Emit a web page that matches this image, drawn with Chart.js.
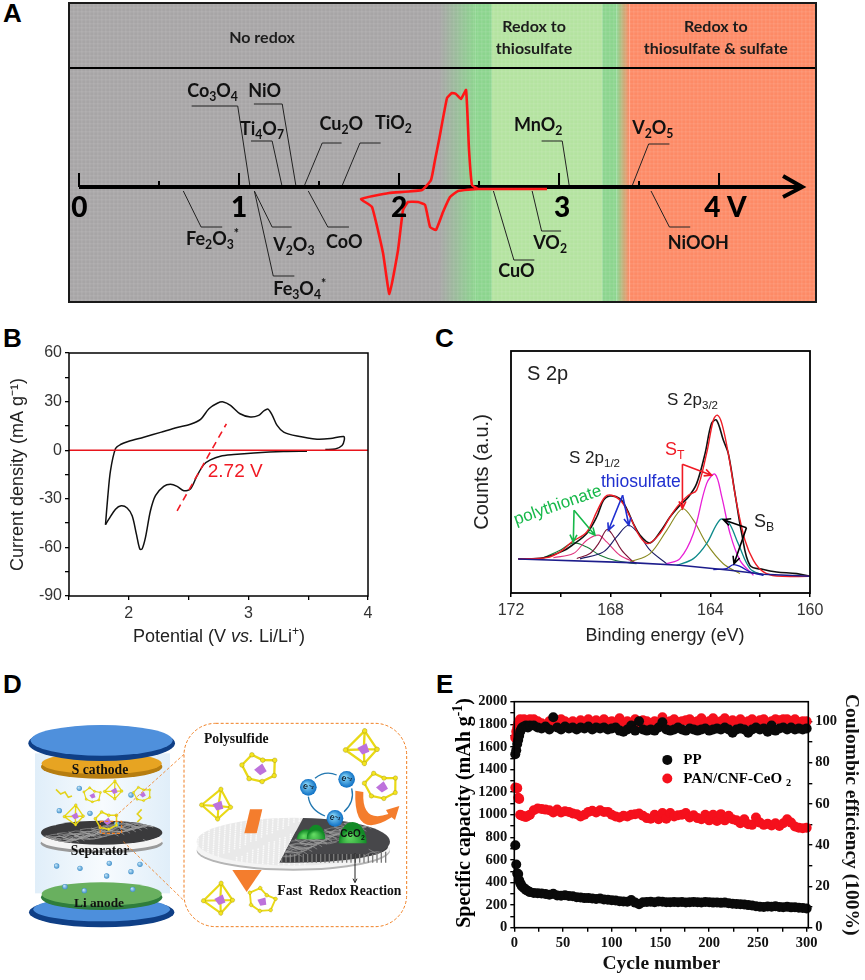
<!DOCTYPE html>
<html>
<head>
<meta charset="utf-8">
<title>Redox panels</title>
<script src="https://cdn.jsdelivr.net/npm/chart.js@4/dist/chart.umd.min.js"></script>
<style>
  html, body { margin: 0; background: #fff; }
  #page { position: relative; width: 865px; height: 980px; overflow: hidden; }
  canvas { position: absolute; }
  .tag { position: absolute; font: bold 26px "Liberation Sans", sans-serif; color: #000; line-height: 26px; }
</style>
</head>
<body>
<div id="page">
  <div class="tag" style="left:3px;top:0px">A</div>
  <div class="tag" style="left:3px;top:325px">B</div>
  <div class="tag" style="left:435px;top:325px">C</div>
  <div class="tag" style="left:3px;top:671px">D</div>
  <div class="tag" style="left:436px;top:671px">E</div>
  <canvas id="panelA"></canvas>
  <canvas id="panelB"></canvas>
  <canvas id="panelC"></canvas>
  <canvas id="panelD"></canvas>
  <canvas id="panelE"></canvas>
</div>
<script>
// panel A: potential scale (V) and a red CV trace, height in arbitrary current units
const scaleMajor = [0, 1, 2, 3, 4];
const scaleMinor = [0.5, 1.5, 2.5, 3.5];
const cvVolt = [2.925, 2.494, 2.369, 2.319, 2.275, 2.231, 2.194, 2.163, 2.119, 2.056, 2.025, 1.994, 1.94, 1.9, 1.831, 1.763, 1.9375, 2.144, 2.2, 2.225, 2.25, 2.3, 2.331, 2.356, 2.387, 2.419, 2.4375, 2.456, 2.494];
const cvCurrent = [-2, -2, -4, -10, -25, -43, -40, -18, -15, -15, -23, -63, -107, -66, -20, -12, -6, -3, 7, 27, 47, 89, 94, 93, 88, 97, 37, 2, -2];
const oxideLeaders = [
  [[0.704, 81], [0.992, 81], [1.069, 0]],
  [[1.093, 83], [1.27, 83], [1.357, 0]],
  [[1.075, 46], [1.207, 46], [1.27, 0]],
  [[1.641, 44], [1.52, 44], [1.405, 0]],
  [[1.885, 44], [1.756, 44], [1.641, 0]],
  [[2.891, 46], [3.02, 46], [3.065, 0]],
  [[3.69, 43], [3.56, 43], [3.454, 0]],
  [[0.652, -4], [0.763, -40], [0.895, -40]],
  [[1.096, -4], [1.207, -40], [1.329, -40]],
  [[1.096, -4], [1.214, -89], [1.346, -89]],
  [[1.433, -4], [1.555, -40], [1.687, -40]],
  [[2.59, -4], [2.718, -73], [2.846, -73]],
  [[2.832, -4], [2.891, -44], [3.013, -44]],
  [[3.575, -4], [3.69, -40], [3.82, -40]]
];
const oxideLabels = [
  ['Co_{3}O_{4}', 0.676, 90], ['NiO', 1.058, 90], ['Ti_{4}O_{7}', 1.006, 52],
  ['Cu_{2}O', 1.503, 57], ['TiO_{2}', 1.85, 58], ['MnO_{2}', 2.718, 56],
  ['V_{2}O_{5}', 3.457, 53], ['Fe_{2}O_{3}^{*}', 0.669, -58], ['V_{2}O_{3}', 1.214, -64],
  ['CoO', 1.544, -61], ['CuO', 2.62, -90], ['VO_{2}', 2.839, -62],
  ['NiOOH', 3.68, -62], ['Fe_{3}O_{4}^{*}', 1.214, -108]
];
const zoneStops = [-0.0625, 2.25, 2.48, 2.58, 3.27, 3.36, 3.44, 4.606];

// panel B: cyclic voltammogram
const anodicV = [1.805, 1.824, 1.847, 1.889, 1.93, 2.0, 2.125, 2.265, 2.404, 2.515, 2.6, 2.67, 2.74, 2.79, 2.85, 2.93, 3.017, 3.086, 3.128, 3.164, 3.2, 3.24, 3.295, 3.407, 3.574, 3.685, 3.797, 3.802, 3.783, 3.727, 3.643];
const anodicJ = [-46, -29, -12.6, 1, 3.5, 5.5, 8, 11, 14, 16, 19, 25.6, 29, 29.8, 27.7, 22.5, 20.5, 21.5, 24.2, 25.4, 21.5, 15.3, 11.2, 8.7, 6.8, 7.2, 8.5, 6.4, 2.9, 0.8, 0.4];
const cathodicV = [3.49, 3.295, 3.045, 2.877, 2.766, 2.682, 2.627, 2.571, 2.515, 2.46, 2.404, 2.348, 2.292, 2.223, 2.181, 2.139, 2.111, 2.092, 2.064, 2.028, 1.986, 1.936, 1.889, 1.833, 1.805];
const cathodicJ = [-0.6, -0.8, -1.7, -2.7, -3.7, -6, -8.9, -15.7, -24, -25, -22.3, -21, -22.3, -28, -37.4, -54, -61, -61, -52, -40.5, -35.7, -34.3, -36.4, -42.6, -46];
const onsetV = [2.404, 2.816];
const onsetJ = [-37.4, 16.3];

// panel C: S 2p spectrum, [binding energy, counts]
const xpsRaw = [[171.71,14.1],[170.7,14.6],[169.9,17.4],[169.5,20.1],[168.96,24.6],[168.56,31.4],[168.29,38.3],[168.03,40.1],[167.63,39],[167.36,34.9],[167.09,28.7],[166.82,23.9],[166.42,20.7],[166.02,25.2],[165.62,31.4],[165.28,35.6],[164.88,39.7],[164.55,45.2],[164.21,57.7],[163.95,70.1],[163.75,71.4],[163.48,63.2],[163.28,57.7],[163.01,41.1],[162.74,24.6],[162.41,11.4],[161.87,9.7],[161.34,8.7],[160.53,8],[160,6.9]];
const xpsFit = [[171.71,14.1],[170.57,14.6],[170.03,17],[169.56,21.1],[168.96,25.2],[168.56,33.5],[168.23,39.7],[167.96,40.4],[167.56,37.7],[167.22,31.4],[166.82,23.2],[166.49,20.4],[166.02,24.6],[165.62,31.4],[165.28,36.3],[164.88,40.4],[164.55,42.5],[164.15,57.7],[163.88,71.4],[163.72,73.5],[163.54,70.1],[163.28,57.7],[162.94,36.9],[162.61,21.8],[162.27,13.5],[161.87,8.7],[161.34,7],[160,6.9]];
const xpsBase = [[171.71,14.07],[167.22,12.55],[165.22,11.45],[163.21,9.38],[161.87,7.72],[160,6.9]];
const peakPoly1 = [[170.7,14.6],[170.03,17.7],[169.5,20.7],[168.96,19],[168.43,15.6],[167.76,13.3],[166.96,12.1]];
const peakPoly2 = [[170.3,14.6],[169.5,16.3],[168.96,21.8],[168.49,23.9],[168.16,21.1],[167.63,15.6],[166.96,12.4]];
const peakThio1 = [[169.36,14.3],[168.83,16.3],[168.49,20.4],[168.16,26.2],[167.96,24.6],[167.56,17.7],[167.09,12.8]];
const peakThio2 = [[169.23,14.1],[168.29,17],[167.76,23.2],[167.29,28],[166.89,24.6],[166.42,17.7],[165.75,12.1]];
const peakST1 = [[167.22,12.8],[166.42,16.3],[165.75,25.9],[165.12,34.8],[164.68,30.1],[164.15,20.4],[163.48,12.1],[162.81,8]];
const peakST2 = [[165.75,12.1],[165.22,14.2],[164.68,24.6],[164.15,45.2],[163.81,49.1],[163.54,39.7],[163.21,24.6],[162.81,13.5],[162.27,7.3]];
const peakSB1 = [[165.35,11.4],[164.68,14.2],[164.15,20.4],[163.61,30.3],[163.28,29.4],[162.88,20.4],[162.41,10.1],[161.87,7.3]];
const peakSB2 = [[163.88,9.7],[163.35,10.1],[163.08,11.7],[162.81,11],[162.41,8.7],[161.87,7.3]];

// panel E: cycling, every cycle at the start then every 4th
const cycleNo = [1,2,3,4,5,6,7,8,10,12,14,16,
  20,24,28,32,36,40,44,48,52,56, 60,64,68,72,76,80,84,88,92,96,
  100,104,108,112,116,120,124,128,132,136, 140,144,148,152,156,160,164,168,172,176,
  180,184,188,192,196,200,204,208,212,216, 220,224,228,232,236,240,244,248,252,256,
  260,264,268,272,276,280,284,288,292,296, 300];
const capacityPP = [730,560,480,475,420,395,380,365,350,335,325,315,
  308,305,303,298,292,300,285,282,288,280, 278,270,268,262,262,258,255,258,250,247,
  243,240,235,232,230,245,222,208,225,228, 230,226,232,230,226,225,228,226,228,224,
  226,228,225,224,228,226,222,224,220,222, 216,212,210,208,205,200,196,190,186,184,
  188,186,190,184,182,186,180,182,176,174, 170];
const capacityCeO2 = [1240,1235,1235,1150,1140,1000,995,990,985,980,990,1000,
  1040,1055,1050,1045,1040,1020,1045,1020,1030,1025, 1010,1005,985,1000,1025,1035,1020,1040,1025,1025,
  1000,985,975,990,985,1000,1005,1010,990,970, 965,1000,960,1015,965,1015,985,995,1000,1015,
  975,995,970,960,1000,950,1000,945,1005,950, 990,960,950,925,960,915,910,975,930,910,
  920,905,925,900,925,960,930,895,885,880, 885];
const efficiencyPP = [84,86,89,91,93,95,96,97,97.5,98,97,98,
  98,97,96.5,97.5,96,102,97,96,97.5,96.5, 97,96,97,96.5,97.5,96,97,96.5,97,96,
  96.5,97,95.5,95,96,98,95.5,100,96,95.5, 96,95.5,97,99.5,96,95.5,96,97,96,95.5,
  96.5,96,95.5,96,96.5,95.5,96,96.5,96,97, 96,94.5,96,96.5,96,94.5,96,97,96,96.5,
  95,98,95.5,96.5,97,96,97,96,96.5,96, 96.5];
const efficiencyCeO2 = [92,95,97,99,100,101,99,100,101,100,99,101,
  101,100,99,98,100,99,100,101,100,99, 100,99,100.5,99,101,99.5,100.5,99,101,99.5,
  100,99,101.5,98,100,99,101,99,100.5,100, 99,100,99,102,99.5,100,101,99.5,100,100.5,
  101,99.5,100,101.5,99,100,101.5,98.5,100,101.5, 99,100.5,99.5,101,99,100,101,99,100.5,101,
  99,100,101,100.5,101,101,100,101,99.5,100, 100];

const xy = (xs, ys) => xs.map((x, i) => ({ x: x, y: ys[i] }));
const pairs = list => list.map(p => ({ x: p[0], y: p[1] }));
const gap = { x: NaN, y: NaN };
const SANS = '"Liberation Sans", Arial, sans-serif';
const SERIF = '"Liberation Serif", "Times New Roman", serif';
const LATO = 'Lato, sans-serif';

// writes text with _{sub}, ^{sup} and *{italic} runs
function richText(ctx, str, x, y, o) {
  const parts = str.split(/(_\{[^}]*\}|\^\{[^}]*\}|\*\{[^}]*\})/).filter(Boolean);
  const weight = o.weight || 'normal', size = o.size, family = o.family;
  const runs = parts.map(p => {
    const m = p.match(/^([_^*])\{(.*)\}$/);
    if (!m) return { t: p, f: weight + ' ' + size + 'px ' + family, dy: 0 };
    if (m[1] === '*') return { t: m[2], f: 'italic ' + weight + ' ' + size + 'px ' + family, dy: 0 };
    const s = size * (o.subScale || 0.68);
    return { t: m[2], f: weight + ' ' + s + 'px ' + family, dy: m[1] === '_' ? size * 0.24 : -size * 0.4 };
  });
  let w = 0;
  runs.forEach(r => { ctx.font = r.f; r.w = ctx.measureText(r.t).width; w += r.w; });
  ctx.save();
  ctx.translate(x, y);
  if (o.rotate) ctx.rotate(o.rotate);
  ctx.fillStyle = o.color || '#000';
  ctx.textAlign = 'left';
  ctx.textBaseline = 'alphabetic';
  let cx = o.align === 'center' ? -w / 2 : 0;
  runs.forEach(r => { ctx.font = r.f; ctx.fillText(r.t, cx, r.dy); cx += r.w; });
  ctx.restore();
}

const notesPlugin = {
  id: 'notes',
  afterDraw(chart, args, opts) {
    const sx = chart.scales.x, sy = chart.scales.y;
    (opts.items || []).forEach(n => {
      const px = n.px ? n.x : sx.getPixelForValue(n.x);
      const py = n.px ? n.y : sy.getPixelForValue(n.y);
      richText(chart.ctx, n.text, px, py, n);
    });
  }
};

const framePlugin = {
  id: 'frame',
  afterDraw(chart, args, opts) {
    const a = chart.chartArea, ctx = chart.ctx;
    ctx.save();
    ctx.strokeStyle = opts.color || '#000';
    ctx.lineWidth = opts.width || 1.5;
    ctx.strokeRect(a.left, a.top, a.right - a.left, a.bottom - a.top);
    ctx.restore();
  }
};

const zonesPlugin = {
  id: 'zones',
  beforeDatasetsDraw(chart) {
    const { ctx, chartArea: a, scales: { x } } = chart;
    const gray = '#a7a5a6', green = '#8cd58e', light = '#b4e3a0', orange = '#fd8a66';
    const s = zoneStops.map(v => x.getPixelForValue(v));
    const h = a.bottom - a.top;
    ctx.save();
    ctx.fillStyle = gray;
    ctx.fillRect(s[0], a.top, s[1] - s[0], h);
    let g = ctx.createLinearGradient(s[1], 0, s[2], 0);
    g.addColorStop(0, gray); g.addColorStop(1, green);
    ctx.fillStyle = g;
    ctx.fillRect(s[1], a.top, s[2] - s[1], h);
    ctx.fillStyle = green;
    ctx.fillRect(s[2], a.top, s[3] - s[2], h);
    ctx.fillStyle = light;
    ctx.fillRect(s[3], a.top, s[4] - s[3], h);
    ctx.fillStyle = green;
    ctx.fillRect(s[4], a.top, s[5] - s[4], h);
    g = ctx.createLinearGradient(s[5], 0, s[6], 0);
    g.addColorStop(0, green); g.addColorStop(1, orange);
    ctx.fillStyle = g;
    ctx.fillRect(s[5], a.top, s[6] - s[5], h);
    ctx.fillStyle = orange;
    ctx.fillRect(s[6], a.top, s[7] - s[6], h);
    // faint woven texture of the shaded bands
    ctx.fillStyle = 'rgba(255,255,255,0.07)';
    for (let px = a.left; px < a.right; px += 4) ctx.fillRect(px, a.top, 1.5, h);
    for (let py = a.top; py < a.bottom; py += 4) ctx.fillRect(a.left, py, a.right - a.left, 1.5);
    ctx.restore();
  }
};

// places a canvas at its page position
function place(id, box) {
  const c = document.getElementById(id);
  c.width = box.w; c.height = box.h;
  c.style.left = box.x + 'px'; c.style.top = box.y + 'px';
  c.style.width = box.w + 'px'; c.style.height = box.h + 'px';
  return c;
}
const baseOptions = (padding) => ({
  responsive: false,
  animation: false,
  layout: { padding: padding },
  plugins: { legend: { display: false }, tooltip: { enabled: false } }
});
const line = (data, color, width, extra) => Object.assign({
  data: data, borderColor: color, backgroundColor: color, borderWidth: width,
  pointRadius: 0, showLine: true, tension: 0
}, extra || {});

// ---------- A ----------
(function () {
  const canvas = place('panelA', { x: 60, y: 0, w: 770, h: 310 });
  const leaderData = [];
  oxideLeaders.forEach(l => { leaderData.push(...pairs(l), gap); });
  const tickData = [];
  scaleMajor.forEach(v => tickData.push({ x: v, y: 0 }, { x: v, y: 14 }, gap));
  scaleMinor.forEach(v => tickData.push({ x: v, y: 0 }, { x: v, y: 6 }, gap));
  const arrowData = [{ x: 0, y: 0 }, { x: 4.52, y: 0 }, gap, { x: 4.4, y: 11 }, { x: 4.52, y: 0 }, { x: 4.4, y: -10 }];
  const items = [
    { text: 'No redox', x: 1.144, y: 144, align: 'center' },
    { text: 'Redox to', x: 2.844, y: 155, align: 'center' },
    { text: 'thiosulfate', x: 2.844, y: 133, align: 'center' },
    { text: 'Redox to', x: 3.98, y: 155, align: 'center' },
    { text: 'thiosulfate & sulfate', x: 3.98, y: 133, align: 'center' }
  ].map(n => Object.assign(n, { size: 16, weight: '700', family: LATO, color: '#1c1c1c' }));
  oxideLabels.forEach(l => items.push({ text: l[0], x: l[1], y: l[2], size: 18, weight: '700', family: LATO, color: '#111' }));
  ['0', '1', '2', '3'].forEach((t, i) => items.push({ text: t, x: [0.003, 1, 2, 3.02][i], y: -30, align: 'center', size: 28, weight: '900', family: LATO }));
  items.push({ text: '4 V', x: 4.04, y: -30, align: 'center', size: 28, weight: '900', family: LATO });
  const opt = baseOptions({ left: 9, top: 3, right: 14, bottom: 8 });
  opt.plugins.notes = { items: items };
  opt.plugins.frame = { color: '#1a1a1a', width: 2 };
  opt.scales = {
    x: { type: 'linear', display: false, min: -0.0625, max: 4.606 },
    y: { type: 'linear', display: false, min: -115, max: 184 }
  };
  new Chart(canvas, {
    type: 'scatter',
    data: { datasets: [
      line(xy(cvVolt, cvCurrent), '#ff1616', 2.6, { tension: 0.12 }),
      line([{ x: -0.0625, y: 119 }, { x: 4.606, y: 119 }], '#000', 2),
      line(arrowData, '#000', 4),
      line(tickData, '#000', 2),
      line(leaderData, '#222', 1)
    ] },
    options: opt,
    plugins: [zonesPlugin, notesPlugin, framePlugin]
  });
})();

// ---------- B ----------
(function () {
  const box = { x: 7, y: 340, w: 390, h: 310 };
  const canvas = place('panelB', box);
  const opt = baseOptions({ top: 353 - box.y, right: box.x + box.w - 368 });
  opt.plugins.notes = { items: [
    { text: '2.72 V', x: 2.66, y: -16.7, size: 19, family: SANS, color: '#f01a24' },
    { text: 'Potential (V *{vs.} Li/Li^{+})', px: true, x: 219 - box.x, y: 642 - box.y, align: 'center', size: 18, family: SANS, color: '#222' }
  ] };
  opt.plugins.frame = { width: 1.5 };
  opt.scales = {
    x: { type: 'linear', min: 1.5, max: 4,
      grid: { drawOnChartArea: false, tickLength: 4, color: '#000', lineWidth: 1.3 }, border: { display: false },
      ticks: { stepSize: 0.5, autoSkip: false, maxRotation: 0, padding: 4, color: '#333', font: { size: 16, family: SANS },
        callback: v => Number.isInteger(v) ? String(v) : '' },
      afterFit: s => { s.height = box.y + box.h - 596; } },
    y: { type: 'linear', min: -90, max: 60,
      grid: { drawOnChartArea: false, tickLength: 4, color: '#000', lineWidth: 1.3 }, border: { display: false },
      ticks: { stepSize: 15, autoSkip: false, padding: 3, color: '#333', font: { size: 16, family: SANS },
        callback: v => v % 30 === 0 ? String(v) : '' },
      title: { display: true, text: 'Current density (mA g\u207B\u00B9)', color: '#222', padding: 0, font: { size: 18, family: SANS } },
      afterFit: s => { s.width = 69 - box.x; } }
  };
  new Chart(canvas, {
    type: 'scatter',
    data: { datasets: [
      line(xy(onsetV, onsetJ), '#f01a24', 1.6, { borderDash: [7, 5] }),
      line([{ x: 1.5, y: 0 }, { x: 4, y: 0 }], '#e8151c', 1.5),
      line(xy(anodicV, anodicJ), '#111', 1.5, { tension: 0.3 }),
      line(xy(cathodicV, cathodicJ), '#111', 1.5, { tension: 0.3 })
    ] },
    options: opt,
    plugins: [notesPlugin, framePlugin]
  });
})();

// ---------- C ----------
(function () {
  const box = { x: 470, y: 340, w: 370, h: 310 };
  const canvas = place('panelC', box);
  const green = '#17b84a', blue = '#1f2fd0', red = '#f01a24';
  const arrows = [
    [green, [169.47, 34.2], [169.5, 21.1]], [green, [169.47, 34.2], [168.63, 23.9]],
    [blue, [167.52, 40.4], [168.09, 25.9]], [blue, [167.52, 40.4], [167.27, 28]],
    [red, [165.12, 53.2], [165.12, 34.9]], [red, [165.12, 53.2], [163.95, 48.7]],
    ['#000', [162.55, 27], [163.48, 30.3]], ['#000', [162.55, 27], [163.05, 12.1]]
  ];
  const arrowPlugin = {
    id: 'arrows',
    afterDatasetsDraw(chart) {
      const { ctx, scales: { x, y } } = chart;
      ctx.save();
      arrows.forEach(a => {
        const x0 = x.getPixelForValue(a[1][0]), y0 = y.getPixelForValue(a[1][1]);
        const x1 = x.getPixelForValue(a[2][0]), y1 = y.getPixelForValue(a[2][1]);
        const t = Math.atan2(y1 - y0, x1 - x0), h = 8;
        ctx.strokeStyle = a[0];
        ctx.lineWidth = 1.6;
        ctx.beginPath();
        ctx.moveTo(x0, y0); ctx.lineTo(x1, y1);
        ctx.moveTo(x1 - h * Math.cos(t - 0.45), y1 - h * Math.sin(t - 0.45));
        ctx.lineTo(x1, y1);
        ctx.lineTo(x1 - h * Math.cos(t + 0.45), y1 - h * Math.sin(t + 0.45));
        ctx.stroke();
      });
      ctx.restore();
    }
  };
  const opt = baseOptions({ top: 351 - box.y, right: box.x + box.w - 810 });
  opt.plugins.frame = { width: 1.8 };
  opt.plugins.notes = { items: [
    { text: 'S 2p', px: true, x: 527 - box.x, y: 380 - box.y, size: 20, family: SANS, color: '#222' },
    { text: 'S 2p_{3/2}', px: true, x: 667 - box.x, y: 405 - box.y, size: 17, family: SANS, color: '#222' },
    { text: 'S 2p_{1/2}', px: true, x: 569 - box.x, y: 463 - box.y, size: 17, family: SANS, color: '#222' },
    { text: 'S_{T}', px: true, x: 665 - box.x, y: 455 - box.y, size: 18, family: SANS, color: red },
    { text: 'S_{B}', px: true, x: 754 - box.x, y: 527 - box.y, size: 18, family: SANS, color: '#222' },
    { text: 'thiosulfate', px: true, x: 601 - box.x, y: 487 - box.y, size: 17.5, family: SANS, color: blue },
    { text: 'polythionate', px: true, x: 516 - box.x, y: 525 - box.y, size: 17, family: SANS, color: green, rotate: -0.335 },
    { text: 'Binding energy (eV)', px: true, x: 665 - box.x, y: 641 - box.y, align: 'center', size: 18, family: SANS, color: '#222' }
  ] };
  opt.scales = {
    x: { type: 'linear', min: 160, max: 172, reverse: true,
      grid: { drawOnChartArea: false, tickLength: 4, color: '#000', lineWidth: 1.5 }, border: { display: false },
      ticks: { stepSize: 2, autoSkip: false, maxRotation: 0, padding: 4, color: '#333', font: { size: 16, family: SANS },
        callback: v => v % 4 === 0 ? String(v) : '' },
      afterFit: s => { s.height = box.y + box.h - 593; } },
    y: { type: 'linear', min: 0, max: 100,
      grid: { display: false }, border: { display: false },
      ticks: { display: false },
      title: { display: true, text: 'Counts (a.u.)', color: '#222', padding: 0, font: { size: 20, family: SANS } },
      afterFit: s => { s.width = 511 - box.x; } }
  };
  const smooth = { tension: 0.35 };
  new Chart(canvas, {
    type: 'scatter',
    data: { datasets: [
      line(pairs(xpsBase), '#1d1d8c', 1.6),
      line(pairs(xpsFit), '#ee1c25', 1.4, smooth),
      line(pairs(xpsRaw), '#111', 1.6, smooth),
      line(pairs(peakSB2), '#1a1ab8', 1.3, smooth),
      line(pairs(peakSB1), '#0d8a8a', 1.3, smooth),
      line(pairs(peakST2), '#e81fd6', 1.3, smooth),
      line(pairs(peakST1), '#8a8a20', 1.1, smooth),
      line(pairs(peakThio2), '#1c1c66', 1.1, smooth),
      line(pairs(peakThio1), '#7a1235', 1.1, smooth),
      line(pairs(peakPoly2), '#e0357f', 1.1, smooth),
      line(pairs(peakPoly1), '#1c7a3a', 1.1, smooth)
    ] },
    options: opt,
    plugins: [arrowPlugin, notesPlugin, framePlugin]
  });
})();

// ---------- D (schematic, drawn in 3x coordinates) ----------
(function () {
  const canvas = place('panelD', { x: 0, y: 660, w: 430, h: 320 });
  const ctx = canvas.getContext('2d');
  ctx.scale(1 / 3, 1 / 3);
  const ell = (x, y, rx, ry, fill) => {
    ctx.beginPath(); ctx.ellipse(x, y, rx, ry, 0, 0, Math.PI * 2); ctx.fillStyle = fill; ctx.fill();
  };
  const label = (t, x, y, size, align) => {
    ctx.font = 'bold ' + size + 'px ' + SERIF;
    ctx.textAlign = align || 'center';
    ctx.fillStyle = '#111';
    ctx.fillText(t, x, y);
  };
  const fibers = (x0, x1, y0, y1, color) => {
    ctx.strokeStyle = color; ctx.lineWidth = 1.8;
    for (let i = 0; i < 70; i++) {
      const sx = x0 + (x1 - x0) * ((i * 0.381) % 1);
      const sy = y0 + (y1 - y0) * ((i * 0.617) % 1);
      ctx.beginPath();
      ctx.moveTo(sx - 40, sy - 10 + (i % 5) * 6);
      ctx.quadraticCurveTo(sx, sy + ((i % 2) ? 20 : -20), sx + 42, sy + 12 - (i % 4) * 7);
      ctx.stroke();
    }
  };
  // column behind the stack
  const back = ctx.createLinearGradient(105, 0, 510, 0);
  back.addColorStop(0, '#e0eef9'); back.addColorStop(0.5, '#f7fbfe'); back.addColorStop(1, '#e0eef9');
  ctx.fillStyle = back;
  ctx.fillRect(105, 280, 405, 420);
  // bottom plate
  ell(305, 757, 218, 45, '#0f3f86');
  ell(305, 748, 205, 36, '#4d8fdc');
  // Li anode
  ell(305, 712, 182, 38, '#2f7d3c');
  ell(305, 702, 180, 35, '#69b05f');
  label('Li anode', 297, 740, 40);
  // separator
  ell(305, 550, 183, 30, '#9a9a9a');
  ell(305, 541, 183, 30, '#f4f4f4');
  ctx.save();
  ctx.beginPath(); ctx.ellipse(305, 518, 182, 36, 0, 0, Math.PI * 2); ctx.clip();
  ctx.fillStyle = '#3a3a3c'; ctx.fillRect(120, 480, 370, 80);
  fibers(125, 485, 485, 552, '#a8a8a8');
  ctx.restore();
  label('Separator', 300, 584, 41);
  // S cathode
  ell(305, 320, 182, 36, '#b67d10');
  ell(305, 310, 180, 32, '#e7a422');
  label('S cathode', 300, 342, 41);
  // top plate
  ell(305, 250, 220, 53, '#0f3f86');
  ell(305, 241, 213, 46, '#4f90dc');

  const ball = (x, y, r) => {
    const g = ctx.createRadialGradient(x - r / 3, y - r / 3, 1, x, y, r);
    g.addColorStop(0, '#bfe2f7'); g.addColorStop(1, '#3f8fca');
    ell(x, y, r, r, g);
  };
  [[238,385],[178,452],[270,460],[393,405],[350,492],[170,618],[240,625],[328,610],[320,648],[393,635],[420,613],[195,680],[253,692],[398,688]]
    .forEach(p => ball(p[0], p[1], 8));

  // polysulfide molecules: yellow sticks and balls round a purple cluster
  const ringShape = [[-50, -4], [-24, -38], [10, -26], [46, -30], [50, 16], [16, 38], [-24, 34]];
  const cageShape = [[-6, -50], [46, -8], [22, 44], [-44, 22]];
  const molecule = (x, y, s, rot, cage) => {
    const pts = cage ? cageShape : ringShape;
    ctx.save();
    ctx.translate(x, y); ctx.rotate(rot); ctx.scale(s, s);
    ctx.lineJoin = 'round';
    ctx.strokeStyle = '#e9d916'; ctx.lineWidth = 7;
    ctx.beginPath();
    pts.forEach((p, i) => i ? ctx.lineTo(p[0], p[1]) : ctx.moveTo(p[0], p[1]));
    ctx.closePath();
    if (cage) pts.forEach(p => { ctx.moveTo(p[0], p[1]); ctx.lineTo(8, 4); });
    ctx.stroke();
    ctx.fillStyle = '#bd72dc';
    ctx.beginPath();
    ctx.moveTo(-12, 6); ctx.lineTo(10, -16); ctx.lineTo(26, 6); ctx.lineTo(8, 20);
    ctx.closePath(); ctx.fill();
    pts.forEach(p => {
      ctx.beginPath(); ctx.arc(p[0], p[1], 7, 0, 7);
      ctx.fillStyle = '#f4e41e'; ctx.fill();
      ctx.strokeStyle = '#8a7f12'; ctx.lineWidth = 1; ctx.stroke();
    });
    ctx.restore();
  };
  molecule(275, 405, 0.5, 0.3, false); molecule(340, 390, 0.55, 0.3, true); molecule(425, 402, 0.5, 0.1, false);
  molecule(222, 465, 0.6, 0.3, true); molecule(318, 482, 0.65, 0.1, false);
  ctx.strokeStyle = '#e3d21e'; ctx.lineWidth = 5;
  ctx.beginPath(); ctx.moveTo(168, 388); ctx.lineTo(182, 402); ctx.lineTo(195, 396); ctx.lineTo(205, 412); ctx.lineTo(216, 408); ctx.stroke();
  ctx.beginPath(); ctx.moveTo(425, 448); ctx.lineTo(412, 462); ctx.lineTo(424, 474); ctx.lineTo(412, 486); ctx.stroke();

  // orange zoom marks
  ctx.strokeStyle = '#f07f22'; ctx.lineWidth = 3.5; ctx.setLineDash([9, 6]);
  ctx.strokeRect(301, 484, 64, 36);
  ctx.lineWidth = 2.5;
  ctx.beginPath(); ctx.moveTo(345, 470); ctx.lineTo(552, 283); ctx.moveTo(370, 545); ctx.lineTo(552, 722); ctx.stroke();
  ctx.lineWidth = 3;
  ctx.beginPath(); ctx.roundRect(552, 190, 668, 610, 95); ctx.fillStyle = '#fff'; ctx.fill(); ctx.stroke();
  ctx.setLineDash([]);

  // zoomed membrane: white half, fibre half
  ell(880, 572, 290, 60, '#b5b5b5');
  ell(880, 566, 290, 60, '#f4f4f4');
  ell(880, 545, 290, 72, '#e9e9e9');
  ctx.save();
  ctx.beginPath(); ctx.ellipse(880, 545, 290, 72, 0, 0, Math.PI * 2); ctx.clip();
  ctx.fillStyle = '#fbfbfb';
  for (let i = 0; i < 420; i++) {
    ctx.beginPath(); ctx.arc(590 + (i * 0.381 % 1) * 340, 470 + (i * 0.617 % 1) * 150, 2.6, 0, 7); ctx.fill();
  }
  ctx.restore();
  ctx.save();
  ctx.beginPath();
  ctx.moveTo(922, 450); ctx.lineTo(1175, 450); ctx.lineTo(1175, 612); ctx.lineTo(836, 612);
  ctx.closePath(); ctx.clip();
  ell(880, 560, 284, 48, '#3c3c3e');
  ctx.strokeStyle = '#7a7a7a'; ctx.lineWidth = 4;
  for (let sx = 845; sx < 1165; sx += 13) {
    ctx.beginPath(); ctx.moveTo(sx, 575); ctx.lineTo(sx, 608); ctx.stroke();
  }
  ctx.beginPath(); ctx.ellipse(880, 545, 290, 72, 0, 0, Math.PI * 2); ctx.clip();
  ctx.fillStyle = '#47474a'; ctx.fillRect(830, 450, 350, 132);
  fibers(850, 1160, 470, 585, '#a0a0a0');
  ctx.restore();
  const dome = (x, y, rx, ry) => {
    const g = ctx.createRadialGradient(x - rx / 4, y - ry / 3, 2, x, y, rx);
    g.addColorStop(0, '#62d962'); g.addColorStop(1, '#128a26');
    ctx.beginPath(); ctx.ellipse(x, y, rx, ry, 0, Math.PI, 0); ctx.closePath(); ctx.fillStyle = g; ctx.fill();
  };
  dome(918, 538, 28, 30); dome(948, 538, 28, 44); dome(1058, 550, 42, 64);
  richText(ctx, 'CeO_{2}', 1021, 532, { size: 30, weight: 'bold', family: SANS, color: '#101010' });
  // electrons and their loop
  ctx.strokeStyle = '#2277b0'; ctx.lineWidth = 4;
  ctx.beginPath(); ctx.moveTo(945, 355); ctx.quadraticCurveTo(975, 330, 1010, 345); ctx.stroke();
  ctx.beginPath(); ctx.moveTo(1055, 385); ctx.quadraticCurveTo(1065, 425, 1032, 455); ctx.stroke();
  ctx.beginPath(); ctx.moveTo(975, 468); ctx.quadraticCurveTo(930, 450, 925, 410); ctx.stroke();
  [[925, 382], [1040, 358], [1005, 475]].forEach(p => {
    const g = ctx.createRadialGradient(p[0] - 8, p[1] - 8, 2, p[0], p[1], 25);
    g.addColorStop(0, '#8fdcfb'); g.addColorStop(1, '#0d6fc4');
    ell(p[0], p[1], 25, 25, g);
    ctx.save();
    ctx.translate(p[0], p[1]); ctx.rotate(0.45);
    ctx.font = 'bold 26px ' + SANS; ctx.textAlign = 'center'; ctx.fillStyle = '#123';
    ctx.fillText('e\u207B\u00B9', 0, 8);
    ctx.restore();
  });
  // molecules in the inset
  molecule(1085, 262, 1.0, 0.3, true); molecule(775, 325, 1.0, 0.12, false); molecule(650, 432, 0.92, 0.4, true);
  molecule(1140, 378, 0.95, 0.1, false); molecule(655, 715, 0.92, 0.3, true); molecule(783, 720, 0.8, 0.5, false);
  // orange arrows
  ctx.fillStyle = '#f47d2d';
  ctx.beginPath(); ctx.moveTo(750, 448); ctx.lineTo(787, 448); ctx.lineTo(770, 520); ctx.lineTo(733, 520); ctx.closePath(); ctx.fill();
  ctx.beginPath(); ctx.moveTo(697, 630); ctx.lineTo(785, 630); ctx.lineTo(740, 696); ctx.closePath(); ctx.fill();
  ctx.beginPath();
  ctx.moveTo(1066, 392); ctx.lineTo(1090, 396);
  ctx.quadraticCurveTo(1085, 490, 1165, 462);
  ctx.lineTo(1158, 450); ctx.lineTo(1198, 438); ctx.lineTo(1185, 480); ctx.lineTo(1175, 472);
  ctx.quadraticCurveTo(1060, 545, 1066, 392);
  ctx.closePath(); ctx.fill();
  // thin pointer
  ctx.strokeStyle = '#222'; ctx.lineWidth = 3;
  ctx.beginPath(); ctx.moveTo(1065, 580); ctx.lineTo(1065, 664); ctx.moveTo(1059, 656); ctx.lineTo(1065, 668); ctx.lineTo(1071, 656); ctx.stroke();
  label('Polysulfide', 612, 250, 41, 'left');
  label('Fast  Redox Reaction', 832, 704, 41, 'left');
})();

// ---------- E ----------
(function () {
  const box = { x: 445, y: 690, w: 418, h: 286 };
  const canvas = place('panelE', box);
  const opt = baseOptions({ top: 697.3 - box.y, right: 0 });
  const tickFont = { size: 14.5, weight: 'bold', family: SERIF };
  opt.plugins.frame = { width: 1.6 };
  opt.plugins.notes = { items: [
    { text: 'PP', x: 173.4, y: 1447, size: 15, weight: 'bold', family: SERIF },
    { text: 'PAN/CNF-CeO _{2}', x: 173.4, y: 1282, size: 15, weight: 'bold', family: SERIF },
    { text: 'Specific capacity (mAh g^{-1})', px: true, x: 470 - box.x, y: 813 - box.y, align: 'center', size: 20, weight: 'bold', family: SERIF, rotate: -Math.PI / 2 }
  ] };
  opt.scales = {
    x: { type: 'linear', min: 0, max: 301.7,
      grid: { drawOnChartArea: false, tickLength: 4, color: '#000', lineWidth: 1.4 }, border: { display: false },
      ticks: { stepSize: 25, includeBounds: false, autoSkip: false, maxRotation: 0, padding: 3, color: '#111', font: tickFont,
        callback: v => v % 50 === 0 ? String(v) : '' },
      title: { display: true, text: 'Cycle number', color: '#111', padding: 0, font: { size: 19.5, weight: 'bold', family: SERIF } },
      afterFit: s => { s.height = box.y + box.h - 927.7; } },
    y: { type: 'linear', min: 0, max: 2000,
      grid: { drawOnChartArea: false, tickLength: 4, color: '#000', lineWidth: 1.4 }, border: { display: false },
      ticks: { stepSize: 100, autoSkip: false, padding: 3, color: '#111', font: tickFont,
        callback: v => v % 200 === 0 ? String(v) : '' },
      afterFit: s => { s.width = 514.3 - box.x; } },
    y1: { type: 'linear', position: 'right', min: 0, max: 109.5,
      grid: { drawOnChartArea: false, tickLength: 4, color: '#000', lineWidth: 1.4 }, border: { display: false },
      ticks: { stepSize: 10, includeBounds: false, autoSkip: false, padding: 3, color: '#111', font: tickFont,
        callback: v => v % 20 === 0 ? String(v) : '' },
      title: { display: true, text: 'Coulombic efficiency (100%)', color: '#111', padding: 0, font: { size: 19.5, weight: 'bold', family: SERIF } },
      afterFit: s => { s.width = box.x + box.w - 808.3; } }
  };
  const dots = (data, color, axis) => ({
    data: data, yAxisID: axis, backgroundColor: color, borderColor: color,
    pointRadius: 5, pointBorderWidth: 0, clip: false
  });
  new Chart(canvas, {
    type: 'scatter',
    data: { datasets: [
      dots(xy(cycleNo, capacityPP), '#0a0a0a', 'y'),
      dots(xy(cycleNo, capacityCeO2), '#f5101c', 'y'),
      dots(xy(cycleNo, efficiencyPP), '#0a0a0a', 'y1'),
      dots(xy(cycleNo, efficiencyCeO2), '#f5101c', 'y1'),
      dots([{ x: 157, y: 1485 }], '#0a0a0a', 'y'),
      dots([{ x: 157, y: 1320 }], '#f5101c', 'y')
    ] },
    options: opt,
    plugins: [notesPlugin, framePlugin]
  });
})();
</script>
</body>
</html>
